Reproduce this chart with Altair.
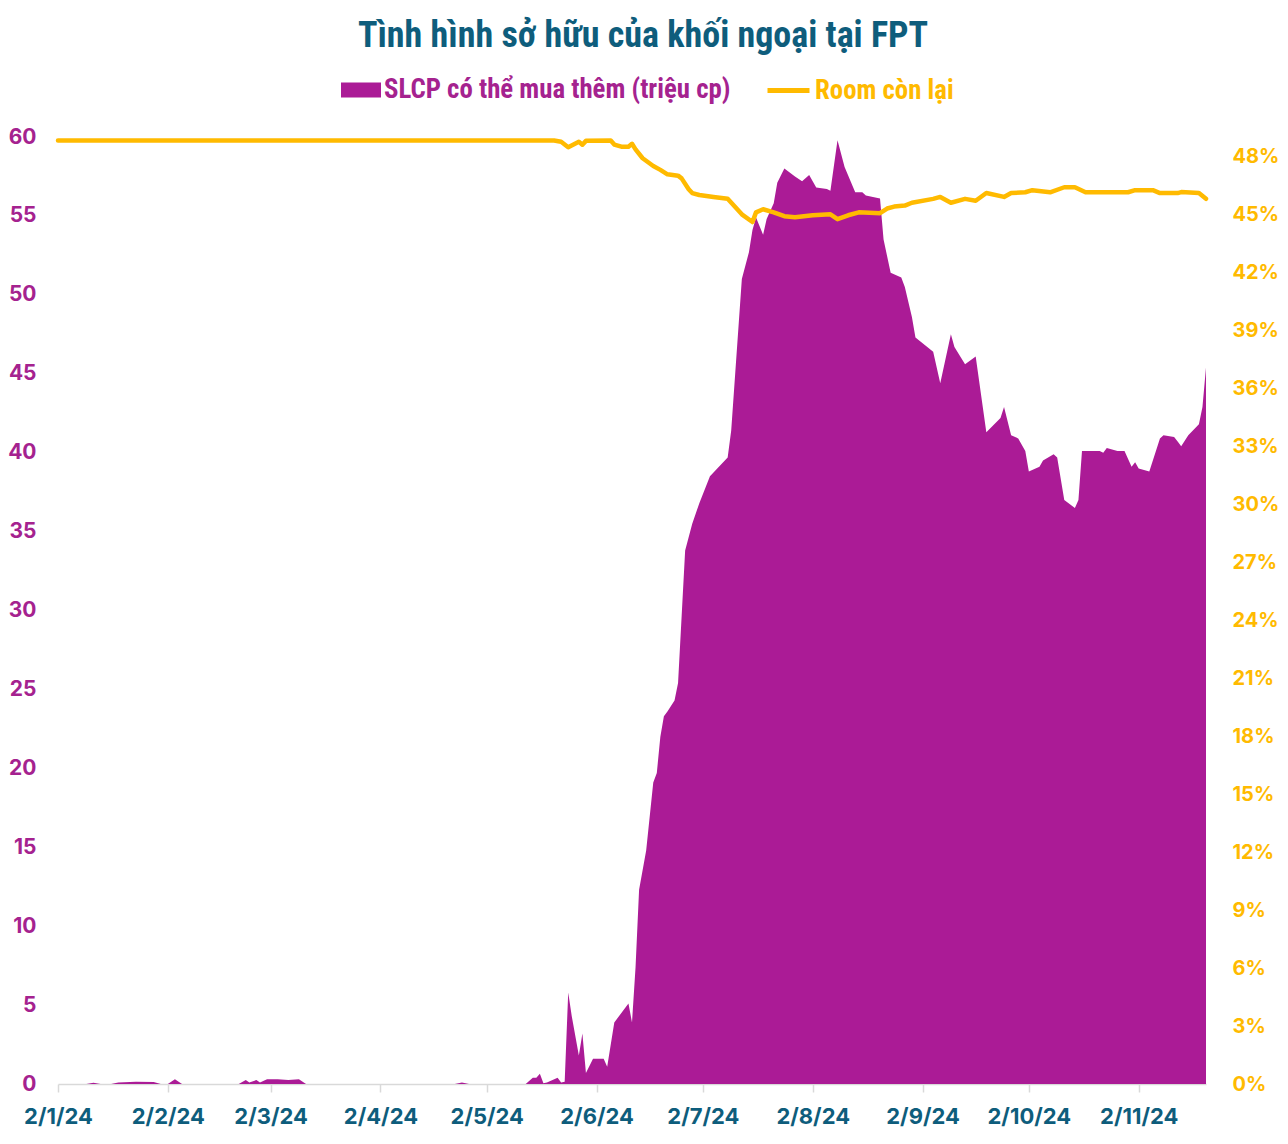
import altair as alt
import pandas as pd

# ---- data ----
area_dates = [
    "2024-01-02", "2024-01-10", "2024-01-12", "2024-01-14", "2024-01-17", "2024-01-19",
    "2024-01-24", "2024-01-29", "2024-01-31", "2024-02-02", "2024-02-04", "2024-02-06",
    "2024-02-22", "2024-02-24", "2024-02-25", "2024-02-27", "2024-02-28", "2024-03-01",
    "2024-03-04", "2024-03-07", "2024-03-10", "2024-03-12", "2024-04-23", "2024-04-25",
    "2024-04-27", "2024-05-13", "2024-05-15", "2024-05-16", "2024-05-17", "2024-05-18",
    "2024-05-19", "2024-05-22", "2024-05-23", "2024-05-24", "2024-05-25", "2024-05-26",
    "2024-05-28", "2024-05-29", "2024-05-30", "2024-06-01", "2024-06-04", "2024-06-05",
    "2024-06-07", "2024-06-11", "2024-06-12", "2024-06-13", "2024-06-14", "2024-06-16",
    "2024-06-18", "2024-06-19", "2024-06-20", "2024-06-21", "2024-06-22", "2024-06-24",
    "2024-06-25", "2024-06-26", "2024-06-27", "2024-06-29", "2024-07-01", "2024-07-04",
    "2024-07-09", "2024-07-10", "2024-07-12", "2024-07-13", "2024-07-15", "2024-07-16",
    "2024-07-17", "2024-07-19", "2024-07-20", "2024-07-22", "2024-07-23", "2024-07-25",
    "2024-07-28", "2024-07-30", "2024-08-01", "2024-08-03", "2024-08-06", "2024-08-07",
    "2024-08-09", "2024-08-11", "2024-08-14", "2024-08-16", "2024-08-17", "2024-08-21",
    "2024-08-22", "2024-08-24", "2024-08-27", "2024-08-28", "2024-08-30", "2024-08-31",
    "2024-09-05", "2024-09-07", "2024-09-10", "2024-09-11", "2024-09-14", "2024-09-17",
    "2024-09-20", "2024-09-24", "2024-09-25", "2024-09-27", "2024-09-29", "2024-10-01",
    "2024-10-02", "2024-10-05", "2024-10-06", "2024-10-09", "2024-10-10", "2024-10-12",
    "2024-10-15", "2024-10-16", "2024-10-17", "2024-10-19", "2024-10-22", "2024-10-23",
    "2024-10-24", "2024-10-27", "2024-10-29", "2024-10-31", "2024-11-01", "2024-11-02",
    "2024-11-05", "2024-11-08", "2024-11-09", "2024-11-12", "2024-11-13", "2024-11-14",
    "2024-11-16", "2024-11-19", "2024-11-20", "2024-11-21",
]
area_values = [
    0, 0, 0.08, 0, 0, 0.1,
    0.15, 0.12, 0, 0, 0.3, 0,
    0, 0.25, 0.1, 0.25, 0.1, 0.3,
    0.3, 0.25, 0.3, 0, 0, 0.1,
    0, 0, 0.4, 0.4, 0.65, 0.05,
    0.1, 0.4, 0.1, 0.15, 5.8, 4.3,
    1.8, 3.2, 0.7, 1.6, 1.6, 1.1,
    3.9, 5.1, 3.9, 7.4, 12.3, 14.8,
    19.1, 19.7, 22.0, 23.3, 23.6, 24.3,
    25.4, 29.6, 33.8, 35.5, 36.8, 38.5,
    39.7, 41.4, 47.8, 51.0, 52.7, 54.1,
    54.9, 53.8, 54.8, 55.8, 57.1, 58.0,
    57.5, 57.2, 57.6, 56.8, 56.7, 56.6,
    59.8, 58.1, 56.5, 56.5, 56.3, 56.1,
    53.5, 51.4, 51.1, 50.5, 48.6, 47.3,
    46.4, 44.4, 47.5, 46.7, 45.6, 46.1,
    41.3, 42.2, 42.9, 41.1, 40.9, 40.1,
    38.8, 39.1, 39.5, 39.9, 39.7, 37.0,
    36.5, 37.0, 40.1, 40.1, 40.1, 40.0,
    40.3, 40.1, 40.1, 39.1, 39.4, 39.0,
    38.8, 40.9, 41.1, 41.0, 40.7, 40.4,
    41.1, 41.8, 42.9, 45.4,
]

room_dates = [
    "2024-01-02", "2024-05-21", "2024-05-23", "2024-05-25", "2024-05-28", "2024-05-29",
    "2024-05-30", "2024-06-06", "2024-06-07", "2024-06-09", "2024-06-11", "2024-06-12",
    "2024-06-13", "2024-06-15", "2024-06-18", "2024-06-20", "2024-06-22", "2024-06-25",
    "2024-06-26", "2024-06-28", "2024-06-29", "2024-07-01", "2024-07-05", "2024-07-09",
    "2024-07-11", "2024-07-13", "2024-07-16", "2024-07-17", "2024-07-19", "2024-07-22",
    "2024-07-25", "2024-07-28", "2024-08-02", "2024-08-07", "2024-08-09", "2024-08-12",
    "2024-08-15", "2024-08-21", "2024-08-23", "2024-08-25", "2024-08-28", "2024-08-30",
    "2024-09-05", "2024-09-07", "2024-09-10", "2024-09-14", "2024-09-17", "2024-09-20",
    "2024-09-25", "2024-09-27", "2024-10-01", "2024-10-03", "2024-10-08", "2024-10-12",
    "2024-10-15", "2024-10-18", "2024-10-30", "2024-11-01", "2024-11-06", "2024-11-08",
    "2024-11-13", "2024-11-14", "2024-11-19", "2024-11-21",
]
room_values = [  # percent
    48.82, 48.82, 48.75, 48.47, 48.75, 48.6,
    48.8, 48.82, 48.61, 48.5, 48.5, 48.65,
    48.36, 47.9, 47.5, 47.3, 47.07, 47.0,
    46.86, 46.3, 46.1, 46.0, 45.9, 45.8,
    45.4, 45.0, 44.6, 45.1, 45.26, 45.1,
    44.9, 44.85, 44.95, 45.0, 44.75, 44.95,
    45.1, 45.06, 45.3, 45.4, 45.45, 45.6,
    45.8, 45.9, 45.6, 45.8, 45.7, 46.1,
    45.9, 46.1, 46.14, 46.25, 46.14, 46.4,
    46.4, 46.14, 46.14, 46.25, 46.25, 46.1,
    46.1, 46.15, 46.1, 45.8,
]

left_ticks = [0, 5, 10, 15, 20, 25, 30, 35, 40, 45, 50, 55, 60]
right_ticks = [0, 3, 6, 9, 12, 15, 18, 21, 24, 27, 30, 33, 36, 39, 42, 45, 48]
tick_months = [1, 2, 3, 4, 5, 6, 7, 8, 9, 10, 11]

AREA_NAME = "SLCP có thể mua thêm (triệu cp)"
ROOM_NAME = "Room còn lại"
TITLE = "Tình hình sở hữu của khối ngoại tại FPT"

PURPLE = "#AB1B96"
PURPLE_TXT = "#A5228F"
GOLD = "#FFBA00"
TEAL = "#0E5D7C"
NARROW = "Roboto Condensed, Liberation Sans Narrow, DejaVu Sans Condensed, sans-serif"
AXFONT = "Inter, Liberation Sans, sans-serif"

area_df = pd.DataFrame({"date": area_dates, "value": area_values})
area_df["series"] = AREA_NAME
room_df = pd.DataFrame({"date": room_dates, "value": room_values})
room_df["series"] = ROOM_NAME

xscale = alt.Scale(
    type="utc",
    domain=[alt.DateTime(year=2024, month=1, date=2, utc=True),
            alt.DateTime(year=2024, month=11, date=21, utc=True)],
)
xaxis = alt.Axis(
    values=[alt.DateTime(year=2024, month=m, date=2, utc=True) for m in tick_months],
    format="%-d/%-m/%y",
    labelFont=AXFONT, labelFontSize=22, labelFontWeight="bold", labelColor=TEAL,
    labelPadding=14, labelFlush=False, labelOverlap=False,
    domainColor="#D9D9D9", domainWidth=1.5,
    tickColor="#D9D9D9", tickSize=8, tickWidth=1.5,
    grid=False, title=None,
)
x_enc = alt.X("date:T", scale=xscale, axis=xaxis)

area = alt.Chart(area_df).mark_area(interpolate="linear").encode(
    x=x_enc,
    y=alt.Y("value:Q",
            scale=alt.Scale(domain=[0, 60], nice=False),
            axis=alt.Axis(values=left_ticks, orient="left", labelFont=AXFONT,
                          labelFontSize=21, labelFontWeight="bold", labelColor=PURPLE_TXT,
                          labelPadding=22, grid=False, domain=False, ticks=False, title=None)),
    fill=alt.Fill("series:N",
                  scale=alt.Scale(domain=[AREA_NAME], range=[PURPLE]),
                  legend=alt.Legend(title=None, orient="none", legendX=283, legendY=-67,
                                    symbolType="M-1,-0.375H1V0.375H-1Z", symbolSize=1600,
                                    symbolStrokeWidth=0, labelFont=NARROW, labelFontSize=26.8,
                                    labelFontWeight="bold", labelColor=PURPLE_TXT,
                                    labelOffset=3, labelLimit=600, padding=0)),
)

line = alt.Chart(room_df).mark_line(strokeWidth=4.5, strokeJoin="round", strokeCap="round").encode(
    x=x_enc,
    y=alt.Y("value:Q",
            scale=alt.Scale(domain=[0, 49], nice=False),
            axis=alt.Axis(values=right_ticks, orient="right", labelExpr="datum.value + '%'",
                          labelFont=AXFONT, labelFontSize=20, labelFontWeight="bold",
                          labelColor=GOLD, labelPadding=26, grid=False, domain=False,
                          ticks=False, title=None)),
    stroke=alt.Stroke("series:N",
                      scale=alt.Scale(domain=[ROOM_NAME], range=[GOLD]),
                      legend=alt.Legend(title=None, orient="none", legendX=707, legendY=-70,
                                        symbolType="stroke", symbolSize=1764,
                                        symbolStrokeWidth=5, labelFont=NARROW, labelFontSize=26.8,
                                        labelFontWeight="bold", labelColor=GOLD,
                                        labelOffset=3, labelLimit=600, padding=0)),
)

chart = alt.layer(area, line).resolve_scale(y="independent").properties(
    width=1148,
    height=947,
    title=alt.TitleParams(TITLE, font=NARROW, fontSize=36, fontWeight="bold", color=TEAL,
                          anchor="middle", dx=11, offset=12),
    padding={"left": 50, "top": 129, "right": 74, "bottom": 52},
    autosize=alt.AutoSizeParams(type="none"),
).configure_view(stroke=None)

chart.save("out.html", embed_options={"renderer": "svg", "actions": False})
